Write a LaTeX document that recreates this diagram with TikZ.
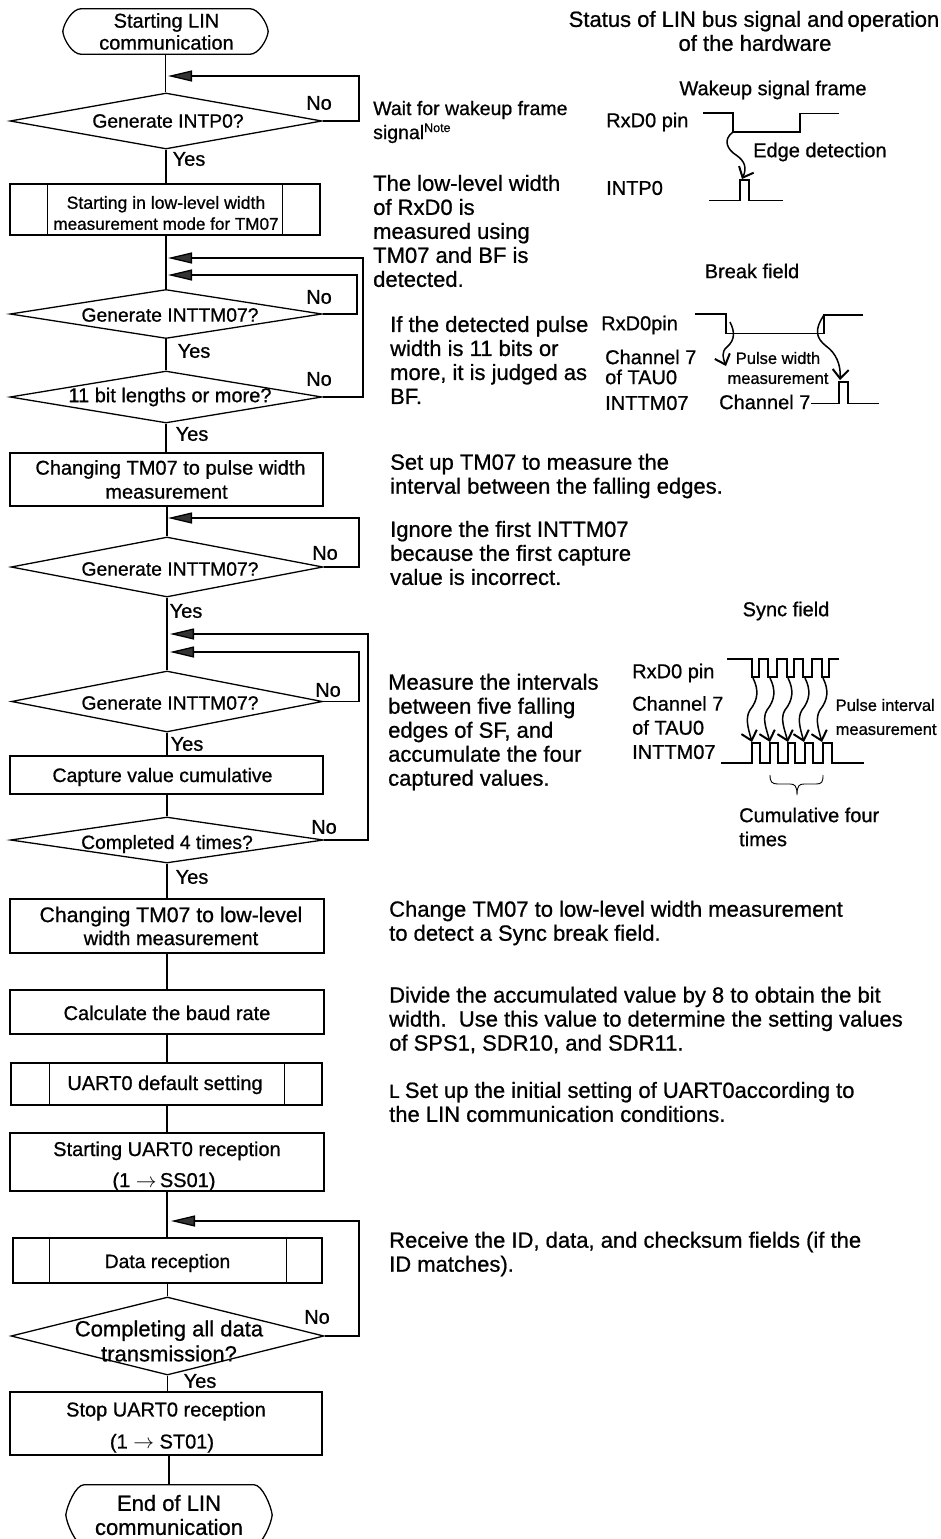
\documentclass[tikz,border=0pt]{standalone}
\usepackage{fontspec}
\setmainfont[FakeBold=0.8]{Liberation Sans}
\usetikzlibrary{shapes.geometric,arrows.meta}
\tikzset{
  txt/.style={font=\fontsize{20}{24}\selectfont,inner sep=0pt,align=left,anchor=west},
  big/.style={txt,font=\fontsize{22}{24}\selectfont},
  ctxt/.style={font=\fontsize{20}{24}\selectfont,inner sep=0pt,align=center},
  dtxt/.style={font=\fontsize{19.3}{24}\selectfont,inner sep=0pt,align=center},
  small/.style={font=\fontsize{16.5}{20}\selectfont,inner sep=0pt,align=left,anchor=west},
  box/.style={draw,rectangle,inner sep=0pt,font=\fontsize{20}{24}\selectfont,align=center,line width=1.3pt},
  dia/.style={draw,diamond,inner sep=0pt,aspect=1,line width=1.3pt},
  term/.style={rectangle,inner sep=0pt,font=\fontsize{20}{22}\selectfont,align=center},
  flow/.style={line width=1.3pt},
  back/.style={line width=1.3pt,-{Triangle[length=24pt,width=11pt,fill=black!80]}},
  wave/.style={line width=1.4pt},
  curved/.style={line width=1.5pt,-{Straight Barb[length=9pt,width=16pt,line width=2pt]}},
}
\newcommand{\termpath}[1]{%
  \draw[flow] (#1.west)
    .. controls ([shift={(1,-9)}]#1.west) and ([shift={(10,0)}]#1.north west) .. ([shift={(18,0)}]#1.north west)
    -- ([shift={(-18,0)}]#1.north east)
    .. controls ([shift={(-10,0)}]#1.north east) and ([shift={(-1,-9)}]#1.east) .. (#1.east)
    .. controls ([shift={(-1,9)}]#1.east) and ([shift={(-10,0)}]#1.south east) .. ([shift={(-18,0)}]#1.south east)
    -- ([shift={(18,0)}]#1.south west)
    .. controls ([shift={(10,0)}]#1.south west) and ([shift={(1,9)}]#1.west) .. (#1.west);}
\newcommand{\subbars}[3]{%
  \draw[flow] ([shift={(#2,0)}]#1.north west) -- ([shift={(#2,0)}]#1.south west);
  \draw[flow] ([shift={(-#3,0)}]#1.north east) -- ([shift={(-#3,0)}]#1.south east);}
\newcommand{\arrowsym}{\ensuremath{\rightarrow}}
\newcommand{\cen}[2]{\raisebox{-#1pt}[0pt][0pt]{#2}}
\begin{document}
\begin{tikzpicture}[x=1pt,y=-1pt]
\useasboundingbox (0,0) rectangle (940,1539);
% ---------- flowchart nodes
\node[term,minimum width=205pt,minimum height=45pt] (start) at (165.5,31.5) {\hspace*{2pt}Starting LIN\\\hspace*{2pt}communication};
\termpath{start}
\node[dia,minimum width=312pt,minimum height=56pt] (d1) at (166,121) {};
\node[dtxt] (d1t) at (168,121) {Generate INTP0?};
\node[box,minimum width=310pt,minimum height=51pt] (s1) at (165,209.5) {};
\node[ctxt,font=\fontsize{17.6}{21}\selectfont] (s1t) at (166,213) {Starting in low-level width\\\fontsize{17.1}{21}\selectfont measurement mode for TM07};
\subbars{s1}{38}{38}
\node[dia,minimum width=312pt,minimum height=49pt] (d2) at (166,314) {};
\node[dtxt] (d2t) at (170,315) {Generate INTTM07?};
\node[dia,minimum width=312pt,minimum height=52pt] (d3) at (166,397) {};
\node[dtxt,font=\fontsize{20}{24}\selectfont] (d3t) at (170,397) {11 bit lengths or more?};
\node[box,minimum width=313pt,minimum height=53pt] (b1) at (166.5,479.5) {\hspace*{8pt}Changing TM07 to pulse width\\[0pt]measurement};
\node[dia,minimum width=312pt,minimum height=60pt] (d4) at (167,567) {};
\node[dtxt] (d4t) at (170,569) {Generate INTTM07?};
\node[dia,minimum width=311pt,minimum height=61pt] (d5) at (167,701.5) {};
\node[dtxt] (d5t) at (170,703) {Generate INTTM07?};
\node[box,font=\fontsize{19.5}{24}\selectfont,minimum width=313pt,minimum height=38pt] (b2) at (166.5,775) {\hspace*{-8pt}\cen{7}{Capture value cumulative}};
\node[dia,minimum width=313pt,minimum height=46pt] (d6) at (167,840) {};
\node[dtxt] (d6t) at (167,844) {Completed 4 times?};
\node[box,minimum width=314pt,minimum height=54pt] (b3) at (167,926) {\hspace*{8pt}{\fontsize{21.2}{24}\selectfont Changing TM07 to low-level}\\[-1pt]\hspace*{8pt}width measurement};
\node[box,minimum width=314pt,minimum height=44pt] (b4) at (167,1012) {\cen{8}{Calculate the baud rate}};
\node[box,minimum width=311pt,minimum height=42pt] (s2) at (166.5,1084) {\hspace*{-3pt}\cen{6}{UART0 default setting}};
\subbars{s2}{39}{38}
\node[box,minimum width=314pt,minimum height=58pt,text depth=1pt] (b5) at (167,1162) {\rule{0pt}{20pt}Starting UART0 reception\\[7pt]\hspace*{-6pt}(1 \arrowsym\,SS01)};
\node[box,font=\fontsize{19.3}{24}\selectfont,minimum width=309pt,minimum height=45pt] (s3) at (167.5,1260.5) {\cen{7.5}{Data reception}};
\subbars{s3}{37}{36}
\node[dia,minimum width=313pt,minimum height=78pt] (d7) at (167.5,1336) {};
\node[dtxt,font=\fontsize{22}{25}\selectfont] (d7t) at (169,1341) {Completing all data\\transmission?};
\node[box,minimum width=312pt,minimum height=63pt] (b6) at (166,1423.5) {\rule{0pt}{22pt}Stop UART0 reception\\[8pt]\hspace*{-8pt}(1 \arrowsym{} ST01)};
\node[term,font=\fontsize{22}{24}\selectfont,minimum width=206pt,minimum height=60pt] (stop) at (169,1515) {End of LIN\\communication};
\termpath{stop}
% ---------- junctions
\coordinate (j1) at (168,76);
\coordinate (j2a) at (168,258);
\coordinate (j2b) at (168,275);
\coordinate (j4) at (168,518);
\coordinate (j5a) at (170,634);
\coordinate (j5b) at (170,652);
\coordinate (j7) at (171,1221);
% ---------- vertical connectors
\draw[flow] (start.south) -- (start.south |- d1.north);
\draw[flow] (d1.south) -- (d1.south |- s1.north);
\draw[flow] (s1.south -| d1.south) -- (d1.south |- d2.north);
\draw[flow] (d2.south) -- (d2.south |- d3.north);
\draw[flow] (d3.south) -- (d3.south |- b1.north);
\draw[flow] (b1.south -| d4.north) -- (d4.north);
\draw[flow] (d4.south) -- (d4.south |- d5.north);
\draw[flow] (d5.south) -- (d5.south |- b2.north);
\draw[flow] (b2.south -| d6.north) -- (d6.north);
\draw[flow] (d6.south) -- (d6.south |- b3.north);
\draw[flow] (b3.south -| b4.north) -- (b4.north);
\draw[flow] (b4.south) -- (b4.south |- s2.north);
\draw[flow] (s2.south -| b5.north) -- (b5.north);
\draw[flow] (b5.south) -- (b5.south |- s3.north);
\draw[flow] (s3.south -| d7.north) -- (d7.north);
\draw[flow] (d7.south) -- (d7.south |- b6.north);
\draw[flow] (b6.south -| stop.north) -- (stop.north);
% ---------- loop-backs
\draw[back] (d1.east) -| (359,76) -- (j1);
\draw[back] (d3.east) -| (363,258) -- (j2a);
\draw[back] (d2.east) -| (357,275) -- (j2b);
\draw[back] (d4.east) -| (359,518) -- (j4);
\draw[back] (d6.east) -| (368,634) -- (j5a);
\draw[back] (d5.east) -| (359,652) -- (j5b);
\draw[back] (d7.east) -| (359,1221) -- (j7);
% ---------- Yes / No
\node[ctxt] (n1) at (319,103) {No};
\node[ctxt] (y1) at (189,159) {Yes};
\node[ctxt] (n2) at (319,297) {No};
\node[ctxt] (y2) at (194,351) {Yes};
\node[ctxt] (n3) at (319,379) {No};
\node[ctxt] (y3) at (192,434) {Yes};
\node[ctxt] (n4) at (325,553) {No};
\node[ctxt] (y4) at (186,611) {Yes};
\node[ctxt] (n5) at (328,690) {No};
\node[ctxt] (y5) at (187,744) {Yes};
\node[ctxt] (n6) at (324,827) {No};
\node[ctxt] (y6) at (192,877) {Yes};
\node[ctxt] (n7) at (317,1317) {No};
\node[ctxt] (y7) at (200,1381) {Yes};
% ---------- annotations
\node[txt,font=\fontsize{19.5}{24}\selectfont] (a1) at (373,122) {Wait for wakeup frame\\signal\raisebox{7pt}{\fontsize{12.5}{10}\selectfont Note}};
\node[big] (a2) at (373,231) {The low-level width\\of RxD0 is\\measured using\\TM07 and BF is\\detected.};
\node[big] (a3) at (390,360) {If the detected pulse\\width is 11 bits or\\more, it is judged as\\BF.};
\node[big] (a4) at (390,476) {Set up TM07 to measure the\\interval between the falling edges.};
\node[big] (a5) at (390,553) {Ignore the first INTTM07\\because the first capture\\value is incorrect.};
\node[big] (a6) at (388,732) {Measure the intervals\\between five falling\\edges of SF, and\\accumulate the four\\captured values.};
\node[big] (a7) at (389,923) {Change TM07 to low-level width measurement\\to detect a Sync break field.};
\node[big] (a8) at (389,1020) {Divide the accumulated value by 8 to obtain the bit\\width.\ \ Use this value to determine the setting values\\of SPS1, SDR10, and SDR11.};
\node[big] (a9) at (389,1102) {{\fontsize{19}{19}\selectfont L}\hspace*{-1pt} Set up the initial setting of UART0according to\\the LIN communication conditions.};
\node[big] (a10) at (389,1254) {Receive the ID, data, and checksum fields (if the\\ID matches).};
% ---------- right column titles
\node[ctxt,font=\fontsize{22}{24}\selectfont] (h) at (754,31) {Status of LIN bus signal and\,operation\\\hspace*{2pt}of the hardware};
\node[ctxt] (h1) at (773,90) {Wakeup signal frame};
\node[ctxt] (h2) at (752,271) {Break field};
\node[ctxt] (h3) at (786,611) {Sync field};
% ---------- wakeup waveform
\node[txt] (w1) at (606,122) {RxD0 pin};
\node[txt] (w2) at (606,188) {INTP0};
\node[txt] (w3) at (753,152) {Edge detection};
\draw[wave] (703,113) -- (733,113) -- (733,132) -- (800,132) -- (800,113.5) -- (839,113.5);
\draw[wave] (709,200.5) -- (740,200.5) -- (740,180) -- (749,180) -- (749,200.5) -- (783,200.5);
\draw[curved] (733,132) .. controls (722,140) and (728,150) .. (736,155) .. controls (745,161) and (747,168) .. (742,179);
% ---------- break field waveform
\node[txt] (k1) at (601,325) {RxD0pin};
\node[txt,font=\fontsize{20}{20}\selectfont] (k2) at (605,367) {Channel 7\\of TAU0};
\node[txt] (k3) at (605,403) {INTTM07};
\node[small,align=center,anchor=center] (k4) at (778,368) {Pulse width\\measurement};
\node[txt] (k5) at (719,402) {Channel 7};
\draw[wave] (695,314) -- (726,314) -- (726,333.5) -- (824,333.5) -- (824,315) -- (863,315);
\draw[wave] (k5.east |- 0,403.5) -- (839,403.5) -- (839,382) -- (848,382) -- (848,403.5) -- (879,403.5);
\draw[curved] (730,322) .. controls (735,332) and (735,340) .. (727,347) .. controls (721,352) and (723,358) .. (726,366);
\draw[curved] (824,315) .. controls (814,330) and (816,338) .. (826,346) .. controls (836,353) and (841,365) .. (840,380);
% ---------- sync field waveform
\node[txt] (c1) at (632,673) {RxD0 pin};
\node[txt] (c2) at (632,715.5) {Channel 7\\of TAU0};
\node[txt] (c3) at (632,752) {INTTM07};
\node[small] (c4) at (835.5,717) {Pulse interval\\[4pt]measurement};
\node[txt] (c5) at (739,827) {Cumulative four\\times};
\draw[wave] (727,659) -- (752,659) -- (752,677) -- (759,677) -- (759,659) -- (768,659) -- (768,677) -- (777,677) -- (777,659) -- (787,659) -- (787,677) -- (794,677) -- (794,659) -- (803,659) -- (803,677) -- (812,677) -- (812,659) -- (822,659) -- (822,677) -- (829,677) -- (829,659) -- (839,659);
\draw[wave] (721,763) -- (752,763) -- (752,743) -- (760,743) -- (760,763) -- (770,763) -- (770,743) -- (778,743) -- (778,763) -- (788,763) -- (788,743) -- (795,743) -- (795,763) -- (805,763) -- (805,743) -- (813,743) -- (813,763) -- (823,763) -- (823,743) -- (832,743) -- (832,763) -- (864,763);
\foreach \s/\e in {753/752,770/770,788/788,805/804,823/822}{
  \draw[curved] (\s,678) .. controls (\s+6,690) and (\s+5,700) .. (\s-3,710) .. controls (\s-8,718) and (\e-4,728) .. (\e,742);
}
\draw[wave,line width=0.9pt] (770,775) .. controls (770,782) and (772,784) .. (778,784) -- (790,784) .. controls (795,784) and (797,786) .. (797,795) .. controls (797,786) and (799,784) .. (804,784) -- (816,784) .. controls (822,784) and (823,782) .. (823,775);
\end{tikzpicture}
\end{document}
